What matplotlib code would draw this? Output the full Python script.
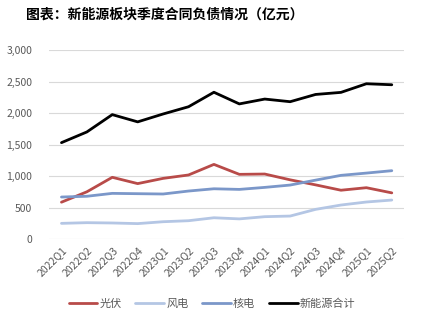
import matplotlib
matplotlib.use("Agg")
import matplotlib.pyplot as plt

plt.rcParams['font.family'] = ['Noto Sans CJK SC', 'DejaVu Sans']

# Data
quarters = ['2022Q1', '2022Q2', '2022Q3', '2022Q4', '2023Q1', '2023Q2', '2023Q3',
            '2023Q4', '2024Q1', '2024Q2', '2024Q3', '2024Q4', '2025Q1', '2025Q2']
solar = [590, 755, 985, 885, 968, 1022, 1190, 1032, 1037, 945, 865, 780, 820, 738]
wind = [254, 265, 260, 250, 280, 296, 343, 325, 360, 370, 476, 545, 593, 624]
nuclear = [672, 684, 730, 725, 720, 767, 803, 793, 825, 862, 940, 1016, 1052, 1090]
total = [1535, 1705, 1980, 1865, 1990, 2105, 2335, 2150, 2227, 2185, 2300, 2333, 2470, 2454]

series_names = ['光伏', '风电', '核电', '新能源合计']
colors = ['#B84B49', '#B4C6E4', '#7B97C9', '#000000']

fig = plt.figure(figsize=(4.24, 3.27), dpi=100)
ax = fig.add_axes([0.115, 0.268, 0.839, 0.578])

x = list(range(len(quarters)))
for vals, name, c in zip([solar, wind, nuclear, total], series_names, colors):
    ax.plot(x, vals, color=c, lw=2.0, label=name, solid_capstyle='round')

ax.set_xlim(-0.5, len(quarters) - 0.5)
ax.set_ylim(0, 3000)
ax.set_yticks(range(0, 3001, 500))
ax.set_yticklabels([f'{v:,}' for v in range(0, 3001, 500)])
ax.set_xticks(x)
ax.set_xticklabels(quarters, rotation=45, ha='right', rotation_mode='anchor')
ax.tick_params(axis='both', length=0, colors='#595959', labelsize=7.5)
ax.tick_params(axis='y', pad=12)
ax.tick_params(axis='x', pad=4)
ax.grid(axis='y', color='#D9D9D9', lw=0.8)
ax.set_axisbelow(True)
for s in ax.spines.values():
    s.set_visible(False)

fig.text(0.062, 0.955, '图表：新能源板块季度合同负债情况（亿元）', fontsize=10,
         fontweight='bold', va='center', ha='left')

fig.legend(loc='center', bbox_to_anchor=(0.5, 0.07), ncol=4, frameon=False,
           fontsize=8, handlelength=2.6, columnspacing=1.2, handletextpad=0.2,
           labelcolor='#595959')

fig.savefig('out.png', dpi=100)
